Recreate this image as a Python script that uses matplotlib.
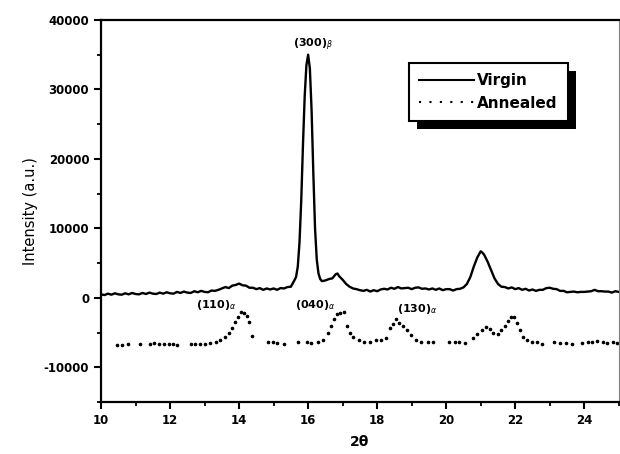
import matplotlib
matplotlib.use("Agg")
import matplotlib.pyplot as plt
from matplotlib.lines import Line2D
from matplotlib.patches import Rectangle
from matplotlib.ticker import MultipleLocator

# Virgin scan (2theta, intensity)
virgin_2theta = [
    10.0, 10.1, 10.2, 10.3, 10.4, 10.5, 10.6, 10.7, 10.8, 10.9,
    11.0, 11.1, 11.2, 11.3, 11.4, 11.5, 11.6, 11.7, 11.8, 11.9,
    12.0, 12.1, 12.2, 12.3, 12.4, 12.5, 12.6, 12.7, 12.8, 12.9,
    13.0, 13.1, 13.2, 13.3, 13.4, 13.5, 13.6, 13.7, 13.8, 13.9,
    14.0, 14.1, 14.2, 14.3, 14.4, 14.5, 14.6, 14.7, 14.8, 14.9,
    15.0, 15.1, 15.2, 15.3, 15.4, 15.5, 15.6, 15.65, 15.7, 15.75,
    15.8, 15.85, 15.9, 15.95, 16.0, 16.05, 16.1, 16.15, 16.2, 16.25,
    16.3, 16.35, 16.4, 16.5, 16.6, 16.7, 16.8, 16.85, 16.9, 17.0,
    17.1, 17.2, 17.3, 17.4, 17.5, 17.6, 17.7, 17.8, 17.9, 18.0,
    18.1, 18.2, 18.3, 18.4, 18.5, 18.6, 18.7, 18.8, 18.9, 19.0,
    19.1, 19.2, 19.3, 19.4, 19.5, 19.6, 19.7, 19.8, 19.9, 20.0,
    20.1, 20.2, 20.3, 20.4, 20.5, 20.6, 20.7, 20.8, 20.9, 21.0,
    21.05, 21.1, 21.2, 21.3, 21.4, 21.5, 21.6, 21.7, 21.8, 21.9,
    22.0, 22.1, 22.2, 22.3, 22.4, 22.5, 22.6, 22.7, 22.8, 22.9,
    23.0, 23.1, 23.2, 23.3, 23.4, 23.5, 23.6, 23.7, 23.8, 23.9,
    24.0, 24.1, 24.2, 24.3, 24.4, 24.5, 24.6, 24.7, 24.8, 24.9, 25.0,
]
virgin_intensity = [
    500, 400, 600, 450, 650, 500, 450, 650, 500, 700,
    550, 500, 700, 550, 750, 600, 550, 750, 600, 800,
    650, 600, 850, 700, 900, 750, 700, 950, 800, 1000,
    850, 800, 1050, 1000, 1150, 1350, 1550, 1400, 1750, 1850,
    2050, 1800, 1750, 1450, 1450, 1250, 1400, 1150, 1350, 1200,
    1350, 1150, 1400, 1350, 1550, 1600, 2500, 3000, 4500, 8000,
    14000, 22000, 29000, 33500, 35000, 33000, 27000, 18000, 10000, 5500,
    3500, 2700, 2400, 2500, 2700, 2800, 3400, 3500, 3100, 2600,
    2000, 1600, 1350, 1250, 1100, 1000, 1150, 900, 1100, 950,
    1200, 1300, 1200, 1450, 1300, 1550, 1350, 1400, 1450, 1250,
    1450, 1500, 1300, 1350, 1200, 1350, 1150, 1350, 1100, 1250,
    1250, 1050, 1250, 1300, 1500, 2000, 3000, 4500, 5800, 6700,
    6500, 6200, 5200, 4000, 2800, 2000, 1600, 1550, 1350, 1500,
    1250, 1400, 1150, 1300, 1050, 1200, 1000, 1150, 1150, 1400,
    1450, 1300, 1250, 1000, 1000, 800, 850, 900, 800, 850,
    850, 900, 950, 1150, 950, 950, 900, 900, 750, 950, 850,
]

# Annealed scan, sparse dots (offset below zero in the original)
annealed_2theta = [
    10.46, 10.62, 10.79, 11.12, 11.43, 11.54, 11.68, 11.83, 11.97, 12.09, 12.2,
    12.6, 12.73, 12.88, 13.02, 13.17, 13.32, 13.46, 13.6, 13.71, 13.8,
    13.89, 13.97, 14.05, 14.14, 14.22, 14.29, 14.37,
    14.83, 14.97, 15.11, 15.29, 15.71, 15.97, 16.09, 16.29, 16.43, 16.57,
    16.66, 16.75, 16.84, 16.93, 17.03, 17.12, 17.21, 17.3, 17.46, 17.63,
    17.8, 17.97, 18.12, 18.26, 18.38, 18.47, 18.55, 18.64, 18.74, 18.86,
    18.97, 19.12, 19.27, 19.46, 19.63, 20.09, 20.26, 20.38, 20.55, 20.78,
    20.89, 21.03, 21.14, 21.26, 21.37, 21.49, 21.6, 21.69, 21.78, 21.88,
    21.96, 22.04, 22.13, 22.22, 22.33, 22.49, 22.63, 22.78, 23.12, 23.3,
    23.47, 23.64, 23.93, 24.1, 24.23, 24.38, 24.53, 24.67, 24.84, 24.95,
]
annealed_intensity = [
    -6800, -6800, -6700, -6600, -6600, -6500, -6600, -6700, -6600, -6700, -6800,
    -6700, -6700, -6650, -6600, -6500, -6300, -6000, -5600, -5000, -4300,
    -3500, -2800, -2000, -2200, -2600, -3500, -5500,
    -6300, -6400, -6500, -6600, -6400, -6300, -6500, -6400, -6000, -5000,
    -4000, -3000, -2400, -2200, -2100, -4000, -5000, -5700, -6000, -6400,
    -6300, -6000, -6000, -5800, -4300, -3700, -3000, -3600, -4000, -4600,
    -5300, -6000, -6300, -6400, -6300, -6400, -6300, -6400, -6500, -5800,
    -5200, -4600, -4200, -4500, -5000, -5200, -4700, -4000, -3300, -2700,
    -2800, -3600, -4600, -5600, -6100, -6300, -6400, -6600, -6400, -6500,
    -6500, -6600, -6500, -6300, -6400, -6200, -6300, -6500, -6400, -6500,
]

# Peak labels
peak_labels = [r"(300)$_\beta$", r"(110)$_\alpha$", r"(040)$_\alpha$", r"(130)$_\alpha$"]
peak_x = [16.15, 13.35, 16.2, 19.15]
peak_y = [35300, -1000, -1000, -1600]

plt.rcParams["font.family"] = "DejaVu Sans"
plt.rcParams["mathtext.fontset"] = "dejavusans"
plt.rcParams["axes.unicode_minus"] = False

fig = plt.figure(figsize=(6.2, 4.54), dpi=100)
ax = fig.add_axes([0.163, 0.1145, 0.835, 0.8415])

ax.plot(virgin_2theta, virgin_intensity, color="black", lw=1.7)
ax.plot(annealed_2theta, annealed_intensity, linestyle="none", marker="o",
        ms=1.6, color="black")

for lab, x, y in zip(peak_labels, peak_x, peak_y):
    va = "bottom" if y > 0 else "center"
    ax.text(x, y, lab, ha="center", va=va, fontsize=8, fontweight="bold")

ax.set_xlim(10, 25)
ax.set_ylim(-15000, 40000)
ax.xaxis.set_major_locator(MultipleLocator(2))
ax.xaxis.set_minor_locator(MultipleLocator(1))
ax.yaxis.set_major_locator(MultipleLocator(10000))
ax.yaxis.set_minor_locator(MultipleLocator(5000))
ax.tick_params(which="major", length=5, width=1.5, labelsize=8.5)
ax.tick_params(which="minor", length=3, width=1.3)
for t in ax.get_xticklabels() + ax.get_yticklabels():
    t.set_fontweight("bold")

for side in ["left", "top", "bottom"]:
    ax.spines[side].set_linewidth(1.6)
ax.spines["right"].set_linewidth(0.8)
ax.spines["right"].set_color("0.5")

ax.set_xlabel("2θ", fontsize=10, fontweight="bold", labelpad=6)
ax.set_ylabel("Intensity (a.u.)", fontsize=10.5, labelpad=4)

handles = [
    Line2D([], [], color="black", lw=1.5),
    Line2D([], [], color="black", lw=1.5, linestyle=(0, (1, 4))),
]
leg = ax.legend(handles, ["Virgin", "Annealed"], loc="upper left",
                bbox_to_anchor=(0.595, 0.887), borderaxespad=0,
                fancybox=False, framealpha=1, edgecolor="black",
                handlelength=3.6, handletextpad=0.2,
                prop={"weight": "bold", "size": 11}, borderpad=0.65)
leg.get_frame().set_linewidth(1.5)
leg.set_zorder(6)

# hard black shadow behind the legend
fig.canvas.draw()
bb = leg.get_window_extent().transformed(fig.transFigure.inverted())
dx, dy = 8 / 620, 8 / 454
shadow = Rectangle((bb.x0 + dx, bb.y0 - dy), bb.width, bb.height,
                   transform=fig.transFigure, facecolor="black",
                   edgecolor="none", zorder=5, clip_on=False)
ax.add_artist(shadow)

fig.savefig("out.png", dpi=100)
